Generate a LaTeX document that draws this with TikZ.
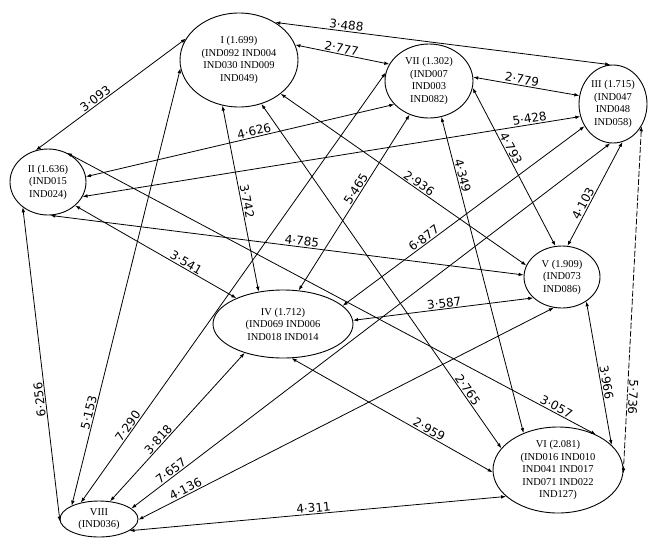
\documentclass[tikz,border=0pt]{standalone}
\usepackage{fontspec}
\setmainfont{Liberation Serif}
\newfontfamily\lblfont{DejaVu Sans}
\usetikzlibrary{arrows.meta,shapes.geometric}
\begin{document}
\begin{tikzpicture}[x=1pt,y=-1pt,
  st/.style={draw, ellipse, inner sep=0pt, align=center, line width=0.9pt,
    font=\fontsize{10.5}{12.5}\selectfont},
  ln/.style={<->, line width=0.8pt, >={Latex[length=5pt,width=3.6pt]}},
  lbl/.style={font=\lblfont\fontsize{12}{12}\selectfont, sloped, allow upside down, inner sep=1pt, above}]
\useasboundingbox (0,0) rectangle (648,539);

\node[st, minimum width=118pt, minimum height=94pt] (I) at (239,60) {I (1.699)\\(IND092 IND004\\IND030 IND009\\IND049)};
\node[st, minimum width=76pt, minimum height=66pt] (II) at (48,182) {II (1.636)\\(IND015\\IND024)};
\node[st, minimum width=68pt, minimum height=78pt] (III) at (613,104) {III (1.715)\\(IND047\\IND048\\IND058)};
\node[st, minimum width=140pt, minimum height=68pt] (IV) at (283,324) {IV (1.712)\\(IND069 IND006\\IND018 IND014};
\node[st, minimum width=76pt, minimum height=62pt] (V) at (562,277) {V (1.909)\\(IND073\\IND086)};
\node[st, minimum width=130pt, minimum height=86pt] (VI) at (558,470) {VI (2.081)\\(IND016 IND010\\IND041 IND017\\IND071 IND022\\IND127)};
\node[st, minimum width=88pt, minimum height=74pt] (VII) at (429,81) {VII (1.302)\\(IND007\\IND003\\IND082)};
\node[st, minimum width=78pt, minimum height=36pt] (VIII) at (99,519) {VIII\\(IND036)};

\draw[ln] (I.46) -- node[lbl,pos=0.21]{3·488} (III.94);
\draw[ln] (I.15) -- node[lbl,pos=0.48]{2·777} (VII.157);
\draw[ln] (II.111) -- node[lbl,pos=0.42]{3·093} (I.158);
\draw[ln] (II.8) -- node[lbl,pos=0.55]{4·626} (VII.214);
\draw[ln] (II.337) -- node[lbl,pos=0.9]{5·428} (III.201);
\draw[ln] (I.250) -- node[lbl,pos=0.52]{3·742} (IV.127);
\draw[ln] (I.297) -- node[lbl,pos=0.84]{2·765} (VI.159);
\draw[ln] (I.321) -- node[lbl,pos=0.55]{2·936} (V.162);
\draw[ln] (VII.5) -- node[lbl,pos=0.45]{2·779} (III.166);
\draw[ln] (IV.65) -- node[lbl,pos=0.56]{5·465} (VII.240);
\draw[ln] (VII.289) -- node[lbl,pos=0.19]{4·349} (VI.133);
\draw[ln] (VII.351) -- node[lbl,pos=0.4]{4·793} (V.102);
\draw[ln] (VIII.138) -- node[lbl,pos=0.17]{7·290} (VII.169);
\draw[ln] (IV.17) -- node[lbl,pos=0.35]{6·877} (III.218);
\draw[ln] (VIII.18) -- node[lbl,pos=0.09]{7·657} (III.266);
\draw[ln] (V.80) -- node[lbl,pos=0.38]{4·103} (III.284);
\draw[ln,dash pattern=on 6pt off 2pt] (III.322) -- node[lbl,pos=0.78]{5·736} (VI.357);
\draw[ln] (II.319) -- node[lbl,pos=0.67]{3·541} (IV.151);
\draw[ln] (II.274) -- node[lbl,pos=0.53]{4·785} (V.177);
\draw[ln] (II.57) -- node[lbl,pos=0.92]{3·057} (VI.43);
\draw[ln] (VIII.184) -- node[lbl,pos=0.39]{6·256} (II.225);
\draw[ln] (VIII.154) -- node[lbl,pos=0.21]{5·153} (I.188);
\draw[ln] (VIII.58) -- node[lbl,pos=0.39]{3·818} (IV.217);
\draw[ln] (VIII.359) -- node[lbl,pos=0.12]{4·136} (V.255);
\draw[ln] (VIII.339) -- node[lbl,pos=0.49]{4·311} (VI.207);
\draw[ln] (IV.3) -- node[lbl,pos=0.51]{3·587} (V.216);
\draw[ln] (IV.284) -- node[lbl,pos=0.67]{2·959} (VI.182);
\draw[ln] (V.315) -- node[lbl,pos=0.57]{3·966} (VI.25);
\end{tikzpicture}
\end{document}
